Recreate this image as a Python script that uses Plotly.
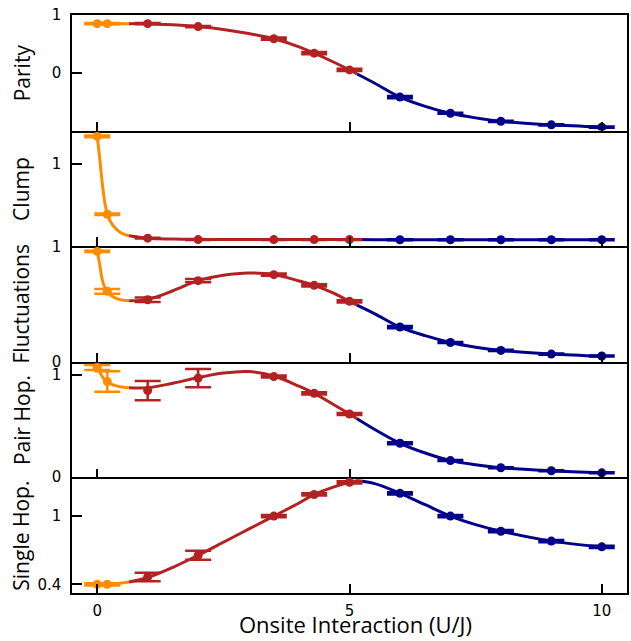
import plotly.graph_objects as go
from plotly.subplots import make_subplots

# ---------------- data ----------------
x_points = [0, 0.2, 1, 2, 3.5, 4.3, 5, 6, 7, 8, 9, 10]

parity_y = [0.85, 0.85, 0.85, 0.80, 0.59, 0.34, 0.05, -0.42, -0.70, -0.84, -0.90, -0.94]
parity_err = [0.01, 0.01, 0.01, 0.01, 0.02, 0.02, 0.02, 0.02, 0.01, 0.01, 0.01, 0.01]

clump_y = [1.33, 0.387, 0.097, 0.08, 0.08, 0.08, 0.08, 0.078, 0.078, 0.078, 0.078, 0.078]
clump_err = [0.01, 0.01, 0.005, 0.005, 0.005, 0.005, 0.005, 0.005, 0.005, 0.005, 0.005, 0.005]

fluct_y = [0.957, 0.61, 0.537, 0.703, 0.755, 0.662, 0.523, 0.30, 0.166, 0.097, 0.065, 0.048]
fluct_err = [0.005, 0.02, 0.02, 0.015, 0.01, 0.01, 0.01, 0.01, 0.005, 0.005, 0.005, 0.005]

pair_y = [1.074, 0.936, 0.847, 0.97, 0.985, 0.82, 0.618, 0.33, 0.16, 0.09, 0.06, 0.04]
pair_err = [0.025, 0.1, 0.094, 0.09, 0.01, 0.01, 0.01, 0.01, 0.005, 0.005, 0.005, 0.005]

single_y = [0.40, 0.40, 0.465, 0.656, 1.0, 1.19, 1.297, 1.20, 1.0, 0.867, 0.78, 0.73]
single_err = [0.01, 0.01, 0.037, 0.04, 0.01, 0.01, 0.01, 0.01, 0.01, 0.01, 0.01, 0.01]

# fitted curves
fit_x = [0, 0.05, 0.1, 0.15, 0.2, 0.3, 0.45, 0.63, 1, 1.5, 2, 2.5, 3, 3.5, 4, 4.3,
         4.65, 5, 5.15, 5.5, 6, 6.5, 7, 7.5, 8, 9, 10]
parity_fit = [0.85, 0.85, 0.85, 0.85, 0.85, 0.85, 0.85, 0.85, 0.85, 0.83, 0.80, 0.75, 0.68,
              0.59, 0.45, 0.34, 0.20, 0.05, -0.02, -0.18, -0.42, -0.58, -0.70, -0.78, -0.84,
              -0.90, -0.94]
clump_fit = [1.33, 1.06, 0.76, 0.53, 0.387, 0.26, 0.17, 0.127, 0.097, 0.087, 0.083, 0.081,
             0.08, 0.08, 0.08, 0.08, 0.08, 0.08, 0.08, 0.079, 0.078, 0.078, 0.078, 0.078,
             0.078, 0.078, 0.078]
fluct_fit = [0.957, 0.84, 0.71, 0.645, 0.61, 0.565, 0.538, 0.529, 0.54, 0.615, 0.703, 0.75,
             0.77, 0.755, 0.70, 0.662, 0.60, 0.523, 0.49, 0.415, 0.30, 0.225, 0.166, 0.125,
             0.097, 0.065, 0.045]
pair_fit = [1.074, 1.03, 0.985, 0.95, 0.93, 0.905, 0.885, 0.874, 0.875, 0.92, 0.975, 1.02,
            1.035, 0.99, 0.89, 0.82, 0.72, 0.618, 0.57, 0.465, 0.33, 0.235, 0.16, 0.12,
            0.09, 0.06, 0.04]
single_fit = [0.40, 0.40, 0.40, 0.40, 0.40, 0.405, 0.41, 0.42, 0.46, 0.55, 0.656, 0.77,
              0.885, 1.0, 1.115, 1.19, 1.25, 1.297, 1.31, 1.285, 1.20, 1.10, 1.0, 0.925,
              0.867, 0.78, 0.73]

panel_titles = ["Parity", "Clump", "Fluctuations", "Pair Hop.", "Single Hop."]
panel_points = [parity_y, clump_y, fluct_y, pair_y, single_y]
panel_errs = [parity_err, clump_err, fluct_err, pair_err, single_err]
panel_fits = [parity_fit, clump_fit, fluct_fit, pair_fit, single_fit]
panel_ranges = [[-1.0, 1.0], [0.0, 1.4], [-0.002, 1.002], [-0.005, 1.13], [0.324, 1.34]]
panel_ticks = [[0, 1], [1], [0, 1], [0, 1], [0.4, 1]]
panel_ticktext = [["0", "1"], ["1"], ["0", "1"], ["0", "1"], ["0.4", "1"]]

x_ticks = [0, 5, 10]
x_title = "Onsite Interaction (U/J)"

# point groups (start, end, colour) and fit segments
ORANGE, RED, BLUE = "#FF8C00", "#B22222", "#00008B"
point_groups = [(0, 2, ORANGE), (2, 7, RED), (7, 12, BLUE)]
fit_groups = [(0, 8, ORANGE), (7, 19, RED), (18, 27, BLUE)]

# ---------------- figure ----------------
fig = make_subplots(rows=5, cols=1, shared_xaxes=True, vertical_spacing=0)

for r in range(5):
    fy = panel_fits[r]
    for s, e, c in fit_groups:
        fig.add_trace(go.Scatter(x=fit_x[s:e], y=fy[s:e], mode="lines",
                                 line=dict(color=c, width=3, shape="spline", smoothing=1.0),
                                 showlegend=False, hoverinfo="skip"), row=r + 1, col=1)
    py = panel_points[r]
    pe = panel_errs[r]
    for s, e, c in point_groups:
        fig.add_trace(go.Scatter(x=x_points[s:e], y=py[s:e], mode="markers",
                                 marker=dict(color=c, size=9),
                                 error_y=dict(type="data", array=pe[s:e], color=c,
                                              thickness=2.5, width=13, visible=True),
                                 showlegend=False), row=r + 1, col=1)

tick_font = dict(family="DejaVu Sans", size=15, color="black")
for r in range(5):
    fig.update_xaxes(range=[-0.5, 10.5], tickvals=x_ticks, ticks="inside", ticklen=9,
                     tickwidth=1.5, tickcolor="black", showline=True, mirror=(r == 0),
                     linecolor="black", linewidth=1.5, showgrid=False, zeroline=False,
                     tickfont=tick_font, ticklabelstandoff=3, row=r + 1, col=1)
    fig.update_yaxes(range=panel_ranges[r], tickvals=panel_ticks[r],
                     ticktext=panel_ticktext[r], ticks="inside", ticklen=10,
                     tickwidth=1.5, tickcolor="black", showline=True, mirror=True,
                     linecolor="black", linewidth=1.5, showgrid=False, zeroline=False,
                     tickfont=tick_font, ticklabelstandoff=6, row=r + 1, col=1)

annotations = []
for r, t in enumerate(panel_titles):
    yc = 1 - (r + 0.5) / 5
    annotations.append(dict(text=t, xref="paper", yref="paper", x=-0.091, y=yc,
                            textangle=-90, showarrow=False, xanchor="center", yanchor="middle",
                            font=dict(family="Open Sans", size=21, color="black")))
annotations.append(dict(text=x_title, xref="paper", yref="paper", x=0.51, y=-0.083,
                        showarrow=False, xanchor="center", yanchor="bottom",
                        font=dict(family="Open Sans", size=22, color="black")))

fig.update_layout(width=631, height=641, margin=dict(l=72, r=2, t=15, b=48),
                  paper_bgcolor="white", plot_bgcolor="white", annotations=annotations)

fig.write_html("out.html")
